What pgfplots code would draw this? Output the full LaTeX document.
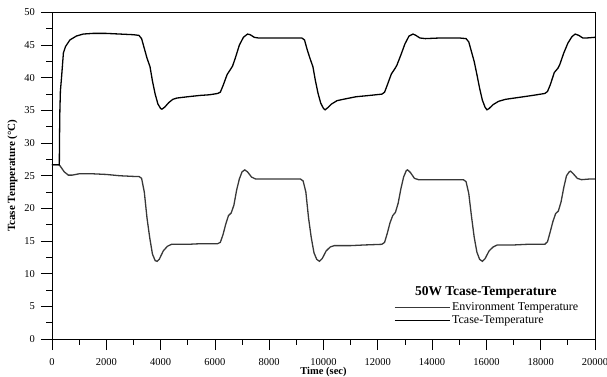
\documentclass[border=0pt]{standalone}
\usepackage{pgfplots}
\pgfplotsset{compat=1.18}
\usepackage{fontspec}
\setmainfont{Liberation Serif}
\begin{document}
\begin{tikzpicture}
\begin{axis}[
  at={(0pt,0pt)}, anchor=south west,
  scale only axis, width=543pt, height=326.5pt,
  xmin=0, xmax=20000, ymin=0, ymax=50,
  xtick={0,2000,...,20000}, ytick={0,5,...,50},
  minor x tick num=1, minor y tick num=1,
  tick align=outside, xtick pos=bottom, ytick pos=left,
  major tick length=11pt, minor tick length=5.5pt,
  tick style={black, line width=0.8pt},
  axis line style={line width=0.8pt},
  scaled x ticks=false,
  /pgf/number format/assume math mode=true,
  /pgf/number format/1000 sep={},
  tick label style={font=\fontsize{10.5}{12}\selectfont},
  xticklabel style={yshift=-5pt},
  yticklabel style={xshift=-2.5pt},
  xlabel={Time (sec)},
  xlabel style={at={(axis description cs:0.5,0)}, anchor=base, yshift=-35.5pt, font=\bfseries\fontsize{10.5}{12}\selectfont},
  ylabel={Tcase Temperature (\textdegree C)},
  ylabel style={at={(axis description cs:-0.0681,0.5)}, anchor=base, rotate=0, font=\bfseries\fontsize{11}{13}\selectfont},
  legend style={draw=none, fill=none, at={(rel axis cs:0.63,0.0766)}, anchor=west, inner sep=0pt, row sep=0.5pt, font=\fontsize{12}{14}\selectfont, nodes={inner sep=1.5pt}},
  legend cell align=left,
  legend image code/.code={\draw[#1] (0pt,0pt) -- (51pt,0pt); \path (0pt,0pt) -- (55pt,0pt);},
]
\addplot[black!78, line width=1.3pt] coordinates {
(0,26.7)(250,26.7)(300,26.5)(450,25.6)(600,25.1)(750,25.1)(1000,25.3)(1500,25.3)(2000,25.2)(2500,25.0)(3000,24.9)(3200,24.9)
(3300,24.6)(3400,22.5)(3500,18.5)(3600,15.5)(3700,13.0)(3800,12.0)(3870,11.9)(3950,12.2)(4100,13.5)(4250,14.2)(4400,14.5)
(5000,14.5)(5500,14.6)(6100,14.6)(6200,14.8)(6300,16.0)(6400,17.6)(6500,18.9)(6600,19.3)(6700,20.5)(6800,22.8)(6900,24.5)
(7000,25.6)(7100,25.9)(7200,25.6)(7350,24.8)(7500,24.5)(8000,24.5)(8500,24.5)(9150,24.5)(9250,24.2)(9350,22.5)(9450,18.5)
(9550,15.5)(9650,13.2)(9750,12.2)(9850,11.9)(9950,12.3)(10100,13.5)(10250,14.1)(10400,14.3)(11000,14.3)(11500,14.4)
(12150,14.5)(12250,14.8)(12350,16.2)(12450,17.8)(12550,18.9)(12650,19.4)(12750,20.8)(12850,23.0)(12950,24.8)(13050,25.8)
(13100,25.9)(13200,25.5)(13350,24.6)(13500,24.4)(14000,24.4)(14500,24.4)(15150,24.4)(15250,24.1)(15350,22.3)(15450,18.8)
(15550,15.6)(15650,13.3)(15750,12.2)(15850,11.9)(15950,12.3)(16100,13.5)(16250,14.1)(16400,14.4)(17000,14.4)(17500,14.5)
(18150,14.5)(18250,14.9)(18350,16.4)(18450,18.0)(18550,19.2)(18650,19.6)(18750,21.0)(18850,23.2)(18950,25.0)(19050,25.6)
(19100,25.7)(19200,25.3)(19350,24.6)(19500,24.4)(19800,24.5)(20000,24.5)
};
\addlegendentry{Environment Temperature}
\addplot[black, line width=1.3pt] coordinates {
(0,26.7)(270,26.7)(275,30)(290,35)(310,38)(350,40)(420,43.8)(500,44.8)(660,45.8)(900,46.4)(1150,46.7)(1500,46.8)(2000,46.8)
(2500,46.7)(3000,46.6)(3200,46.5)(3300,46.0)(3400,44.5)(3500,43.0)(3610,41.7)(3700,39.5)(3800,37.5)(3900,36.0)(4000,35.3)
(4050,35.2)(4150,35.5)(4300,36.2)(4450,36.7)(4600,36.9)(5000,37.1)(5450,37.3)(5800,37.4)(6100,37.6)(6200,37.8)(6300,38.8)
(6450,40.5)(6560,41.2)(6650,41.8)(6750,43.0)(6900,45.0)(7050,46.2)(7200,46.7)(7300,46.6)(7450,46.2)(7600,46.1)(8000,46.1)
(8500,46.1)(9200,46.1)(9300,45.8)(9400,44.3)(9500,43.0)(9610,41.7)(9700,39.6)(9800,37.6)(9900,36.1)(10000,35.3)(10060,35.1)
(10150,35.4)(10300,36.0)(10500,36.5)(10720,36.7)(11200,37.1)(11700,37.3)(12150,37.5)(12250,37.8)(12350,38.9)(12500,40.6)
(12630,41.4)(12700,41.9)(12850,43.5)(13000,45.2)(13150,46.4)(13300,46.7)(13400,46.5)(13550,46.1)(13750,46.0)(14300,46.1)
(15000,46.1)(15250,46.0)(15350,45.5)(15450,44.0)(15550,42.5)(15650,40.5)(15750,38.4)(15850,36.6)(15950,35.5)(16020,35.1)
(16100,35.3)(16250,35.9)(16450,36.4)(16700,36.7)(17200,37.0)(17700,37.3)(18150,37.6)(18250,37.9)(18350,38.9)(18500,40.8)
(18640,41.5)(18700,42.0)(18850,43.8)(19000,45.3)(19150,46.3)(19270,46.7)(19400,46.5)(19550,46.1)(19700,46.1)(20000,46.2)
};
\addlegendentry{Tcase-Temperature}
\node[font=\bfseries\fontsize{13.5}{16}\selectfont] at (rel axis cs:0.799,0.144) {50W Tcase-Temperature};
\end{axis}
\node[anchor=base west, font=\fontsize{20}{24}\selectfont] at (71pt,343.5pt) {(Using Thermal Chamber (ESPEC))};
\pgfresetboundingbox
\path[use as bounding box] (-52pt,-37pt) rectangle (555pt,339pt);
\end{tikzpicture}
\end{document}
